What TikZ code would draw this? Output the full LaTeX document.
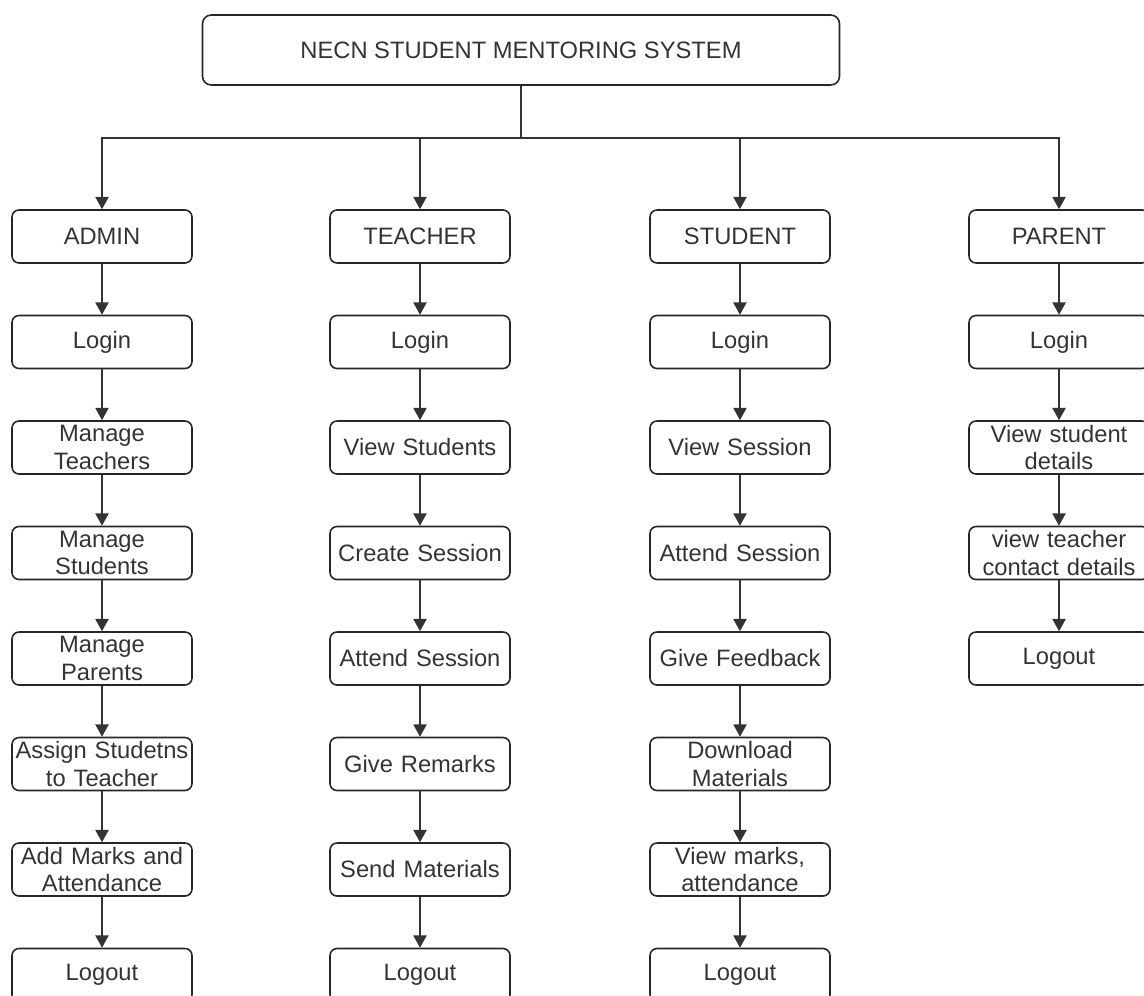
\documentclass[tikz,border=0pt]{standalone}
\usepackage{fontspec}
\setmainfont{Liberation Sans}
\usetikzlibrary{arrows.meta}

\begin{document}
\begin{tikzpicture}
        % Define styles
        \tikzset{
            title/.style={rectangle, draw=black!85, rounded corners=5pt, line width=0.9pt, minimum width=12.74cm, minimum height=1.4cm, text=black!80, font=\fontsize{13.5}{15.5}\selectfont},
            box/.style={rectangle, draw=black!85, rounded corners=4pt, line width=0.9pt, minimum height=1.06cm, text width=3.5cm, inner xsep=0.05cm, inner ysep=0pt, align=center, text=black!80, font=\fontsize{13.5}{15.5}\selectfont},
            arrow/.style={-{Triangle[length=7pt,width=7.5pt]}, draw=black!80, line width=0.9pt}
        }
        \useasboundingbox (0,0) rectangle (22.88,-19.92);

        % Nodes
        \node[title] (title_node) at (10.42,-1.0) {NECN STUDENT MENTORING SYSTEM};
        \coordinate (branch) at (10.42,-2.76);

        % admin
        \node[box] (admin_node_0) at (2.04,-4.73) {ADMIN};
        \node[box] (admin_node_1) at (2.04,-6.84) {Login};
        \node[box] (admin_node_2) at (2.04,-8.95) {Manage\\Teachers};
        \node[box] (admin_node_3) at (2.04,-11.06) {Manage\\Students};
        \node[box] (admin_node_4) at (2.04,-13.17) {Manage\\Parents};
        \node[box] (admin_node_5) at (2.04,-15.28) {Assign Studetns\\to Teacher};
        \node[box] (admin_node_6) at (2.04,-17.39) {Add Marks and\\Attendance};
        \node[box] (admin_node_7) at (2.04,-19.50) {Logout};

        % teacher
        \node[box] (teacher_node_0) at (8.4,-4.73) {TEACHER};
        \node[box] (teacher_node_1) at (8.4,-6.84) {Login};
        \node[box] (teacher_node_2) at (8.4,-8.95) {View Students};
        \node[box] (teacher_node_3) at (8.4,-11.06) {Create Session};
        \node[box] (teacher_node_4) at (8.4,-13.17) {Attend Session};
        \node[box] (teacher_node_5) at (8.4,-15.28) {Give Remarks};
        \node[box] (teacher_node_6) at (8.4,-17.39) {Send Materials};
        \node[box] (teacher_node_7) at (8.4,-19.50) {Logout};

        % student
        \node[box] (student_node_0) at (14.8,-4.73) {STUDENT};
        \node[box] (student_node_1) at (14.8,-6.84) {Login};
        \node[box] (student_node_2) at (14.8,-8.95) {View Session};
        \node[box] (student_node_3) at (14.8,-11.06) {Attend Session};
        \node[box] (student_node_4) at (14.8,-13.17) {Give Feedback};
        \node[box] (student_node_5) at (14.8,-15.28) {Download\\Materials};
        \node[box] (student_node_6) at (14.8,-17.39) {View marks,\\attendance};
        \node[box] (student_node_7) at (14.8,-19.50) {Logout};

        % parent
        \node[box] (parent_node_0) at (21.18,-4.73) {PARENT};
        \node[box] (parent_node_1) at (21.18,-6.84) {Login};
        \node[box] (parent_node_2) at (21.18,-8.95) {View student\\details};
        \node[box] (parent_node_3) at (21.18,-11.06) {view teacher\\contact details};
        \node[box] (parent_node_4) at (21.18,-13.17) {Logout};

        % Arrows
        \draw[draw=black!80, line width=0.9pt] (title_node) -- (branch);
        \draw[arrow] (branch) -| (admin_node_0);
        \draw[arrow] (branch) -| (teacher_node_0);
        \draw[arrow] (branch) -| (student_node_0);
        \draw[arrow] (branch) -| (parent_node_0);

        \draw[arrow] (admin_node_0) -- (admin_node_1);
        \draw[arrow] (admin_node_1) -- (admin_node_2);
        \draw[arrow] (admin_node_2) -- (admin_node_3);
        \draw[arrow] (admin_node_3) -- (admin_node_4);
        \draw[arrow] (admin_node_4) -- (admin_node_5);
        \draw[arrow] (admin_node_5) -- (admin_node_6);
        \draw[arrow] (admin_node_6) -- (admin_node_7);

        \draw[arrow] (teacher_node_0) -- (teacher_node_1);
        \draw[arrow] (teacher_node_1) -- (teacher_node_2);
        \draw[arrow] (teacher_node_2) -- (teacher_node_3);
        \draw[arrow] (teacher_node_3) -- (teacher_node_4);
        \draw[arrow] (teacher_node_4) -- (teacher_node_5);
        \draw[arrow] (teacher_node_5) -- (teacher_node_6);
        \draw[arrow] (teacher_node_6) -- (teacher_node_7);

        \draw[arrow] (student_node_0) -- (student_node_1);
        \draw[arrow] (student_node_1) -- (student_node_2);
        \draw[arrow] (student_node_2) -- (student_node_3);
        \draw[arrow] (student_node_3) -- (student_node_4);
        \draw[arrow] (student_node_4) -- (student_node_5);
        \draw[arrow] (student_node_5) -- (student_node_6);
        \draw[arrow] (student_node_6) -- (student_node_7);

        \draw[arrow] (parent_node_0) -- (parent_node_1);
        \draw[arrow] (parent_node_1) -- (parent_node_2);
        \draw[arrow] (parent_node_2) -- (parent_node_3);
        \draw[arrow] (parent_node_3) -- (parent_node_4);
    \end{tikzpicture}
\end{document}
